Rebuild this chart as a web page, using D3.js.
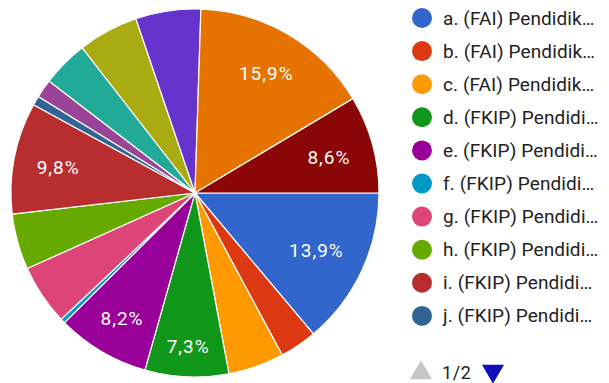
<!DOCTYPE html>
<html>
<head>
<meta charset="utf-8">
<script src="https://cdn.jsdelivr.net/npm/d3@7"></script>
<style>
  html, body { margin: 0; padding: 0; background: #fff; }
  svg { display: block; }
</style>
</head>
<body>
<svg id="chart" width="609" height="383"></svg>
<script>
// Response counts per study programme, in answer order a..p
const categories = [
  "a. (FAI) Pendidik…", "b. (FAI) Pendidik…", "c. (FAI) Pendidik…",
  "d. (FKIP) Pendidi…", "e. (FKIP) Pendidi…", "f. (FKIP) Pendidi…",
  "g. (FKIP) Pendidi…", "h. (FKIP) Pendidi…", "i. (FKIP) Pendidi…",
  "j. (FKIP) Pendidi…", "k.", "l.", "m.", "n.", "o.", "p."
];
const counts = [34, 8, 12, 18, 20, 1, 13, 12, 24, 2, 4, 10, 13, 14, 39, 21];
const palette = [
  "#3366cc", "#dc3912", "#ff9900", "#109618", "#990099", "#0099c6",
  "#dd4477", "#66aa00", "#b82e2e", "#316395", "#994499", "#22aa99",
  "#aaaa11", "#6633cc", "#e67300", "#8b0707"
];
const pageText = "1/2";
const legendPageSize = 10;

const svg = d3.select("#chart");
const cx = 195, cy = 193, radius = 184;

const color = d3.scaleOrdinal().domain(categories).range(palette);
const total = d3.sum(counts);
const pctFormat = d3.formatLocale({ decimal: ",", thousands: ".", grouping: [3], currency: ["", ""] }).format(".1%");

const pie = d3.pie()
  .sort(null)
  .value((d, i) => counts[i])
  .startAngle(Math.PI / 2)
  .endAngle(Math.PI / 2 + 2 * Math.PI);

const arcs = pie(categories);
const arc = d3.arc().innerRadius(0).outerRadius(radius);

const g = svg.append("g").attr("transform", `translate(${cx},${cy})`);

g.selectAll("path.slice")
  .data(arcs)
  .join("path")
  .attr("class", "slice")
  .attr("d", arc)
  .attr("fill", d => color(d.data))
  .attr("stroke", "#fff")
  .attr("stroke-width", 1.2)
  .attr("stroke-linejoin", "round");

// Percentage labels on the larger slices, pushed outward along the slice
// bisector until the text box reaches a fixed distance from the centre.
const labelLimit = radius * 0.88;
const labelled = arcs.filter(d => d.value / total >= 0.07);

const labels = g.selectAll("text.pct")
  .data(labelled)
  .join("text")
  .attr("class", "pct")
  .attr("text-anchor", "middle")
  .attr("dominant-baseline", "central")
  .attr("font-family", "Roboto, 'Noto Sans', sans-serif")
  .attr("font-size", 19)
  .attr("letter-spacing", 1)
  .attr("fill", "#ffffff")
  .text(d => pctFormat(d.value / total));

labels.each(function (d) {
  const w = this.getComputedTextLength();
  const h = 14;
  const mid = (d.startAngle + d.endAngle) / 2;
  const ux = Math.sin(mid), uy = -Math.cos(mid);
  let dist = labelLimit;
  for (; dist > 0; dist -= 0.5) {
    const x = ux * dist, y = uy * dist;
    const fx = Math.abs(x) + w / 2, fy = Math.abs(y) + h / 2;
    if (Math.hypot(fx, fy) <= labelLimit) break;
  }
  d3.select(this).attr("x", ux * dist).attr("y", uy * dist + 1);
});

// Legend, first page
const legend = svg.append("g").attr("transform", "translate(422,18)");
const rowStep = 33.1;
const pageItems = categories.slice(0, legendPageSize);

const rows = legend.selectAll("g.row")
  .data(pageItems)
  .join("g")
  .attr("class", "row")
  .attr("transform", (d, i) => `translate(0,${i * rowStep})`);

rows.append("circle")
  .attr("r", 10)
  .attr("fill", d => color(d));

rows.append("text")
  .attr("x", 21)
  .attr("dominant-baseline", "central")
  .attr("font-family", "Roboto, 'Noto Sans', sans-serif")
  .attr("font-size", 19)
  .attr("letter-spacing", 0.1)
  .attr("fill", "#222222")
  .text(d => d);

// Pager
const pager = svg.append("g").attr("transform", "translate(0,372)");
pager.append("path")
  .attr("d", d3.symbol().type(d3.symbolTriangle).size(210)())
  .attr("transform", "translate(421,1)")
  .attr("fill", "#c6c6c6");
pager.append("text")
  .attr("x", 442)
  .attr("dominant-baseline", "central")
  .attr("font-family", "Roboto, 'Noto Sans', sans-serif")
  .attr("font-size", 18)
  .attr("letter-spacing", 0.6)
  .attr("fill", "#222222")
  .text(pageText);
pager.append("path")
  .attr("d", d3.symbol().type(d3.symbolTriangle).size(210)())
  .attr("transform", "translate(493,-1) rotate(180)")
  .attr("fill", "#1010b8");
</script>
</body>
</html>
